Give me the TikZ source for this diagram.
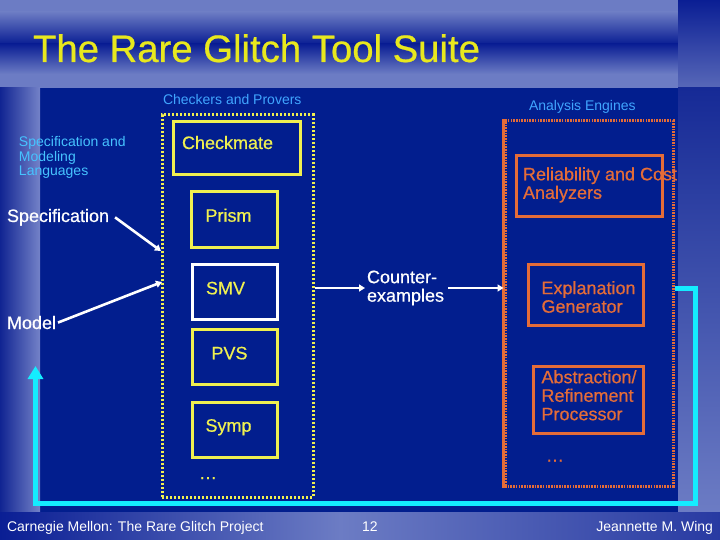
\documentclass[tikz,border=0pt]{standalone}
\usepackage{fontspec}
\setmainfont{Liberation Sans}
\newfontfamily\heavyish[FakeBold=0.6]{Liberation Sans}
\usetikzlibrary{arrows.meta}
\definecolor{bgmain}{RGB}{2,30,142}
\definecolor{bglight}{RGB}{108,124,196}
\definecolor{bgdark}{RGB}{10,30,148}
\definecolor{bgmid}{RGB}{88,104,184}
\definecolor{bgrstrip}{RGB}{22,42,150}
\definecolor{bglstripL}{RGB}{16,36,146}
\definecolor{bglstripR}{RGB}{116,130,200}
\definecolor{bgfootR}{RGB}{40,58,162}
\definecolor{ttlyel}{RGB}{232,232,30}
\definecolor{boxyel}{RGB}{240,240,80}
\definecolor{lblblue}{RGB}{64,165,255}
\definecolor{lblcyan}{RGB}{70,195,255}
\definecolor{engorg}{RGB}{228,108,56}
\definecolor{loopcyan}{RGB}{20,236,255}
\tikzset{
  txt/.style={inner sep=0pt, outer sep=0pt},
  big/.style={font=\heavyish\fontsize{18}{18.5}\selectfont},
  small/.style={font=\fontsize{14}{14.4}\selectfont},
  dotbox/.style={draw=boxyel, line width=3pt, dash pattern=on 2.4pt off 1.6pt, inner sep=0pt},
  orgdotbox/.style={draw=engorg, line width=3pt, dash pattern=on 1.6pt off 1.1pt, inner sep=0pt},
  ybox/.style={draw=boxyel, line width=3pt, inner sep=0pt},
  wbox/.style={draw=white, line width=3pt, inner sep=0pt},
  obox/.style={draw=engorg, line width=3pt, inner sep=0pt},
  warr/.style={draw=white, line width=2.6pt, -{Triangle[length=6pt,width=7pt]}},
  cyanloop/.style={draw=loopcyan, line width=5pt, line join=miter, -{Triangle[length=13pt,width=15pt]}}
}
\begin{document}
\begin{tikzpicture}[x=1pt,y=-1pt]
\useasboundingbox (0,0) rectangle (720,540);
% background
\fill[bgmain] (0,0) rectangle (720,540);
\fill[bglight] (0,0) rectangle (678,12);
\shade[top color=bglight, bottom color=bgdark] (0,12) rectangle (678,44);
\shade[top color=bgdark, bottom color=bglight] (0,44) rectangle (678,74);
\fill[bglight] (0,74) rectangle (678,88);
\shade[top color=bgdark, bottom color=bgmid] (678,0) rectangle (720,88);
\shade[top color=bgrstrip, bottom color=bglight] (678,88) rectangle (720,512);
\shade[left color=bglstripL, right color=bglstripR] (0,88) rectangle (40,512);
\shade[left color=bgdark, right color=bglight] (0,512) rectangle (340,540);
\shade[left color=bglight, right color=bgfootR] (340,512) rectangle (720,540);

% title
\node[txt, anchor=base west, text=ttlyel, font=\heavyish\fontsize{38.3}{40}\selectfont] (title) at (33,62) {The Rare Glitch Tool Suite};

% group labels
\node[txt, small, anchor=base west, text=lblblue] (cpLbl) at (163,105) {Checkers and Provers};
\node[txt, small, anchor=base west, text=lblblue] (aeLbl) at (529,111) {Analysis Engines};
\node[txt, small, anchor=west, align=left, text=lblcyan] (smLbl) at (19,157.7) {Specification and\\Modeling\\Languages};

% checkers and provers
\node[dotbox, minimum width=151pt, minimum height=382pt] (checkers) at (237.5,306) {};
\node[ybox, minimum width=127pt, minimum height=53pt] (checkmate) at (236.5,148.5) {};
\node[txt, big, anchor=base west, text=boxyel] (checkmateT) at (182,149) {Checkmate};
\node[ybox, minimum width=86pt, minimum height=55pt] (prism) at (234,219.5) {};
\node[txt, big, anchor=base west, text=boxyel] (prismT) at (205.5,221.7) {Prism};
\node[wbox, minimum width=85pt, minimum height=55pt] (smv) at (234.5,291.5) {};
\node[txt, big, anchor=base west, text=boxyel] (smvT) at (206,294.3) {SMV};
\node[ybox, minimum width=85pt, minimum height=55pt] (pvs) at (234.5,356.5) {};
\node[txt, big, anchor=base west, text=boxyel] (pvsT) at (211.5,359.3) {PVS};
\node[ybox, minimum width=85pt, minimum height=55pt] (symp) at (234.5,429.5) {};
\node[txt, big, anchor=base west, text=boxyel] (sympT) at (205.5,431.7) {Symp};
\node[txt, big, anchor=base west, text=boxyel] (cpDots) at (199,479) {…};

% analysis engines
\node[orgdotbox, minimum width=168pt, minimum height=365pt] (analysis) at (589,303.5) {};
\draw[draw=engorg, line width=2.5pt] (analysis.north west) -- (analysis.south west);
\node[obox, minimum width=146pt, minimum height=61pt] (reliab) at (589,186.5) {};
\node[txt, big, anchor=west, align=left, text=engorg] (reliabT) at (523,184.9) {Reliability and Cost\\Analyzers};
\node[obox, minimum width=115pt, minimum height=61pt] (expl) at (585.5,294.5) {};
\node[txt, big, anchor=west, align=left, text=engorg] (explT) at (541.5,297) {Explanation\\Generator};
\node[obox, minimum width=110pt, minimum height=67pt] (abstr) at (588,399.5) {};
\node[txt, big, anchor=west, align=left, text=engorg] (abstrT) at (541.5,395.3) {Abstraction/\\Refinement\\Processor};
\node[txt, big, anchor=base west, text=engorg] (aeDots) at (546,461.7) {…};

% inputs
\node[txt, big, anchor=base west, text=white] (spec) at (7,222) {Specification};
\node[txt, big, anchor=base west, text=white] (model) at (7,329) {Model};
\coordinate (specTip) at (161,251);
\coordinate (modelTip) at (162,282);
\draw[warr] ([xshift=6pt]spec.east) -- (specTip);
\draw[warr] ([xshift=2pt]model.east) -- (modelTip);

% counterexamples
\node[txt, big, anchor=west, align=left, text=white] (ce) at (367,288) {Counter-\\examples};
\draw[warr] (checkers.east |- ce.west) -- ([xshift=-2pt]ce.west);
\draw[warr] ([xshift=4pt]ce.east) -- (analysis.west |- ce.east);

% feedback loop
\coordinate (loopSE) at (695,503);
\coordinate (loopSW) at (35.5,503);
\coordinate (loopTip) at (35.5,366);
\draw[cyanloop] (analysis.east |- ce.east) -| (loopSE) -- (loopSW) -- (loopTip);

% footer
\node[txt, font=\fontsize{14}{16}\selectfont, anchor=base west, text=white] (footL) at (7,531) {Carnegie Mellon: The Rare Glitch Project};
\node[txt, font=\fontsize{14}{16}\selectfont, anchor=base west, text=white] (footC) at (362,531) {12};
\node[txt, font=\fontsize{14}{16}\selectfont, anchor=base east, text=white] (footR) at (713,531) {Jeannette M. Wing};
\end{tikzpicture}
\end{document}
